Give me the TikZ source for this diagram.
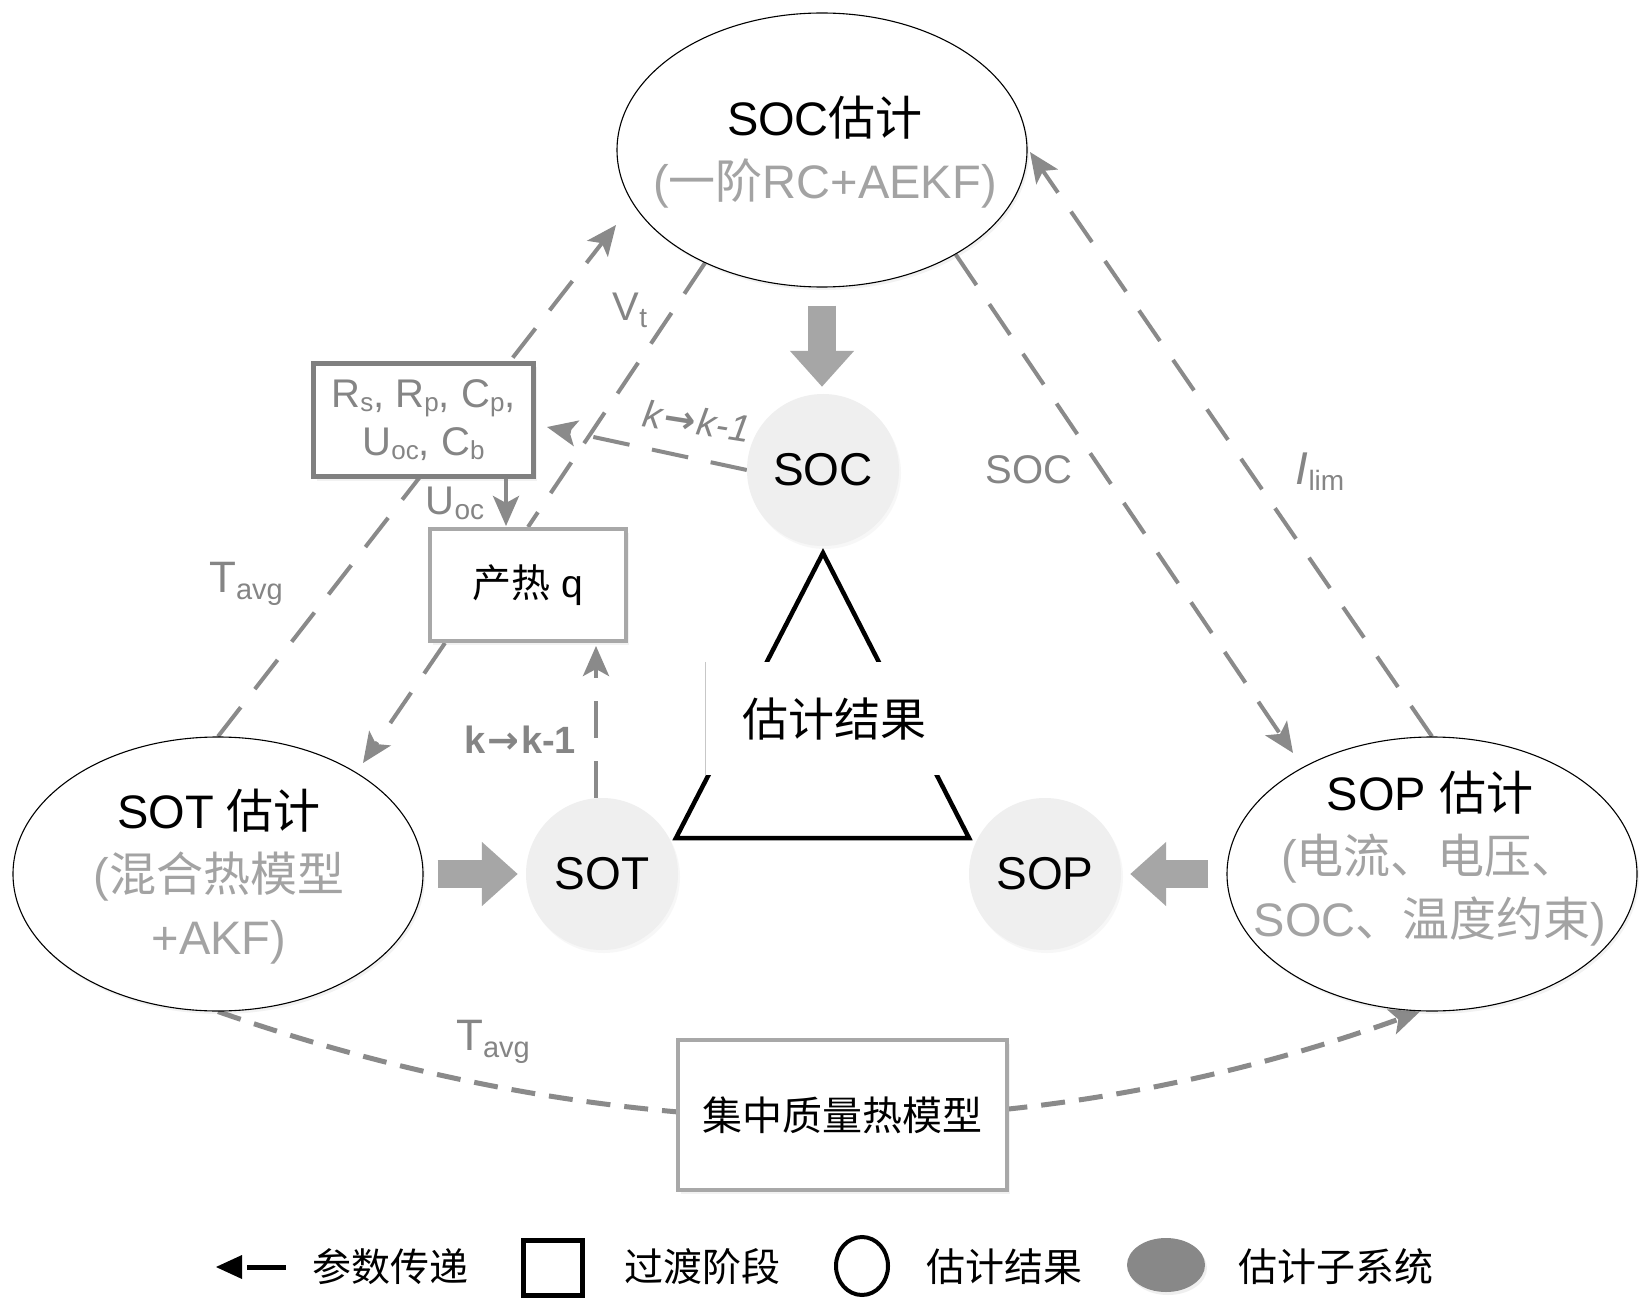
\documentclass[tikz,border=0pt]{standalone}
\usepackage{fontspec}
\setmainfont{Liberation Sans}
\newfontfamily\cjk{Noto Sans CJK SC}
\newfontfamily\djv{DejaVu Sans}
\usetikzlibrary{arrows.meta,shapes.geometric,shadows,calc}
\pgfdeclarelayer{background}
\pgfsetlayers{background,main}

\definecolor{conn}{RGB}{138,138,138}
\definecolor{lbl}{RGB}{133,133,133}
\definecolor{soft}{RGB}{163,163,163}
\definecolor{blk}{RGB}{166,166,166}
\definecolor{circfill}{RGB}{239,239,239}
\definecolor{boxdark}{RGB}{128,128,128}
\definecolor{boxlight}{RGB}{168,168,168}
\definecolor{legfill}{RGB}{136,136,136}

\newcommand{\fs}[1]{\fontsize{#1}{#1}\selectfont}
\newcommand{\sbs}[3]{\raisebox{-#1pt}{\fontsize{#2}{#2}\selectfont #3}}
\newcommand{\karr}{\kern2pt{\djv\bfseries →}\kern2pt}

\begin{document}
\begin{tikzpicture}[x=1pt,y=-1pt,
  bigell/.style={ellipse, draw=black, line width=1.1pt, fill=white,
    minimum width=410pt, minimum height=274pt, inner sep=0pt,
    drop shadow={opacity=0.10, shadow xshift=2pt, shadow yshift=-3pt}},
  ellt/.style={align=center, inner sep=0pt, font=\fontsize{47}{63}\selectfont},
  rescirc/.style={circle, fill=circfill, minimum size=152pt, inner sep=0pt,
    font=\fs{46}, drop shadow={opacity=0.06, shadow xshift=2pt, shadow yshift=-3pt}},
  parbox/.style={draw=boxdark, line width=5pt, fill=white, inner sep=0pt,
    drop shadow={opacity=0.10, shadow xshift=3pt, shadow yshift=-4pt}},
  stagebox/.style={draw=boxlight, line width=4pt, fill=white, inner sep=0pt,
    drop shadow={opacity=0.10, shadow xshift=3pt, shadow yshift=-4pt}},
  lbl/.style={text=lbl, inner sep=0pt},
  conn/.style={draw=conn, line width=4pt, dash pattern=on 37pt off 23pt},
  conncurve/.style={draw=conn, line width=5pt, dash pattern=on 24pt off 14pt},
  tip/.style={-{Stealth[length=30pt,width=26pt,inset=7pt]}},
  bigarrow/.style={draw=blk, line width=28pt, -{Triangle[length=36pt,width=62pt]}},
  legtxt/.style={inner sep=0pt, font=\cjk\fs{39}}
]
\useasboundingbox (0,0) rectangle (1649,1313);

% free ends of connectors
\coordinate (tA) at (616,225);
\coordinate (tK) at (547,427);
\coordinate (tE) at (363,763);
\coordinate (tG) at (1293,753);
\coordinate (tH) at (1030,152);
% triangle corners
\coordinate (triA) at (823,553);
\coordinate (triL) at (676,838);
\coordinate (triR) at (969,838);

% estimation subsystems
\node[bigell] (SOCe) at (822,150) {};
\node[ellt] (SOCt) at (825,152) {SOC{\cjk 估计}\\\textcolor{soft}{({\cjk 一阶}RC+AEKF)}};
\node[bigell] (SOTe) at (218,874) {};
\node[ellt] (SOTt) at (219,877) {SOT {\cjk 估计}\\\textcolor{soft}{({\cjk 混合热模型}}\\\textcolor{soft}{+AKF)}};
\node[bigell] (SOPe) at (1432,874) {};
\node[ellt] (SOPt) at (1430,859) {SOP {\cjk 估计}\\\textcolor{soft}{({\cjk 电流、电压、}}\\\textcolor{soft}{SOC{\cjk 、温度约束})}};

% estimation results
\node[rescirc] (SOCc) at (823,470) {SOC};
\node[rescirc] (SOTc) at (602,874) {SOT};
\node[rescirc] (SOPc) at (1045,874) {SOP};

% transition boxes
\node[parbox, minimum width=220pt, minimum height=113pt, align=center, text=lbl,
  font=\fontsize{40}{48}\selectfont] (Rs) at (423.5,420)
  {R\sbs{4}{26}{s}, R\sbs{4}{26}{p}, C\sbs{4}{26}{p},\\U\sbs{4}{26}{oc}, C\sbs{4}{26}{b}};
\node[stagebox, minimum width=196pt, minimum height=112pt, font=\fs{39}] (heat) at (528,585) {{\cjk 产热} q};
\node[stagebox, minimum width=329pt, minimum height=150pt, font=\cjk\fs{40}] (lump) at (842.5,1115) {集中质量热模型};

% central result box
\node[fill=white, minimum width=256pt, minimum height=113pt, inner sep=0pt, font=\cjk\fs{46}] (res) at (834,718.5) {估计结果};
\draw[draw=black!22, line width=0.8pt] (res.north west) -- (res.south west);

% labels
\node[lbl, font=\fs{40}] (lVt) at (630,310) {V\sbs{7}{28}{t}};
\node[lbl, font=\fs{44}] (lT1) at (246,584) {T\sbs{7}{29}{avg}};
\node[lbl, font=\fs{40}] (lUoc) at (455,503) {U\sbs{5}{28}{oc}};
\node[lbl, font=\itshape\fs{38}, rotate=-9] (lk1) at (697,421) {k\karr k-1};
\node[lbl, font=\bfseries\fs{38}] (lk2) at (520,740) {k\karr k-1};
\node[lbl, font=\fs{40}] (lSOC) at (1029,470) {SOC};
\node[lbl, font=\fs{46}] (lI) at (1320,472) {\textit{I}\sbs{6}{28}{lim}};
\node[lbl, font=\fs{44}] (lT2) at (493,1042) {T\sbs{7}{29}{avg}};

% connectors behind
\begin{pgfonlayer}{background}
\fill[white] (0,0) rectangle (1649,1313);
\draw[line width=4.5pt, line join=miter] (triA) -- (triR) -- (triL) -- cycle;
\draw[conn,tip] (SOTe.north) -- (tA);
\draw[conn] (SOCe.224.7) -- (heat.north);
\draw[conn,tip] (SOCc.west) -- (tK);
\draw[draw=conn, line width=4pt, tip, shorten >=1pt] ([xshift=-30pt]Rs.south east) -- ([xshift=-30pt]Rs.south east |- heat.north);
\draw[conn,tip] ([xshift=17pt]heat.south west) -- (tE);
\draw[conn,tip, shorten >=3pt] ([xshift=-6pt]SOTc.north) -- ([xshift=-6pt]SOTc.north |- heat.south);
\draw[conn,tip] (SOCe.-38) -- (tG);
\draw[conn,tip] (SOPe.north) -- (tH);
\draw[conncurve,tip] (SOTe.south) .. controls (623,1153) and (1027,1153) .. ([xshift=-12pt]SOPe.south);
\end{pgfonlayer}

% thick arrows to results
\draw[bigarrow, shorten <=18pt, shorten >=7pt] (SOCe.south) -- (SOCe.south |- SOCc.north);
\draw[bigarrow, shorten <=14pt, shorten >=8pt] (SOTe.east) -- (SOTe.east -| SOTc.west);
\draw[bigarrow, shorten <=18pt, shorten >=9pt] (SOPe.west) -- (SOPe.west -| SOPc.east);

% legend
\fill[black] (216,1267) -- (242,1255) -- (242,1279) -- cycle;
\fill[black] (247,1264.5) rectangle (286,1269.5);
\node[legtxt] (lg1) at (390,1267) {参数传递};
\node[draw=black, line width=5pt, minimum width=59pt, minimum height=55pt, inner sep=0pt] (lgbox) at (553,1268) {};
\node[legtxt] (lg2) at (702,1267) {过渡阶段};
\node[ellipse, draw=black, line width=4pt, minimum width=52pt, minimum height=58pt, inner sep=0pt] (lgcirc) at (862,1266) {};
\node[legtxt] (lg3) at (1004,1267) {估计结果};
\node[ellipse, fill=legfill, minimum width=78pt, minimum height=54pt, inner sep=0pt,
  drop shadow={opacity=0.12, shadow xshift=2pt, shadow yshift=-3pt}] (lgsub) at (1166,1265) {};
\node[legtxt] (lg4) at (1336,1267) {估计子系统};
\end{tikzpicture}
\end{document}
